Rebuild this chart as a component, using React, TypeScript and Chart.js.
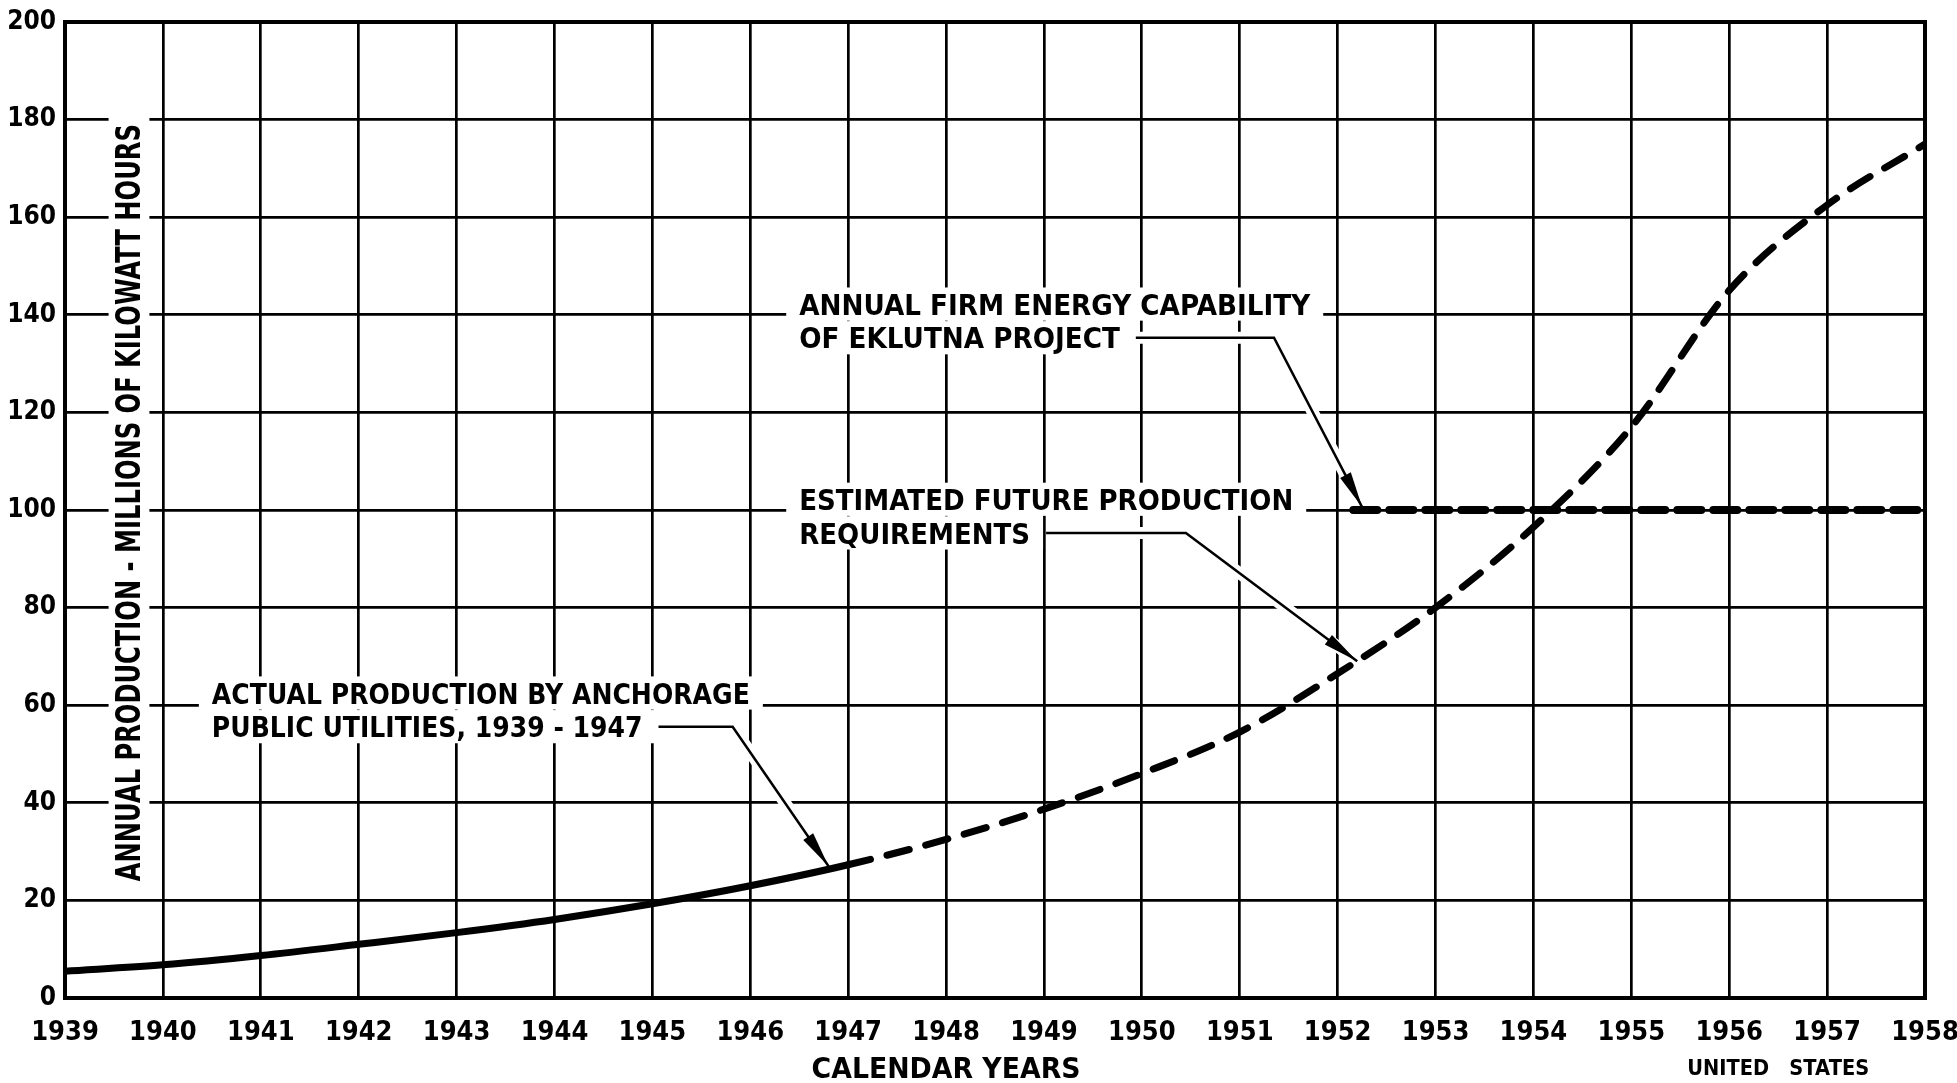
import React, { useEffect, useRef } from "react";
import { Chart, registerables } from "chart.js";

Chart.register(...registerables);

// ---- Data ----
const YEARS = [1939, 1940, 1941, 1942, 1943, 1944, 1945, 1946, 1947, 1948, 1949, 1950, 1951, 1952, 1953, 1954, 1955, 1956, 1957, 1958];
const PRODUCTION = [5.5, 6.8, 8.7, 11, 13.4, 16.1, 19.3, 23, 27.3, 32.5, 38.7, 46, 54.5, 66.5, 80, 96.5, 117, 145, 162.5, 175];
const LAST_ACTUAL_YEAR = 1947;
const FIRM_YEARS = [1952.16, 1958];
const FIRM_VALUES = [100, 100];
const Y_MIN = 0;
const Y_MAX = 200;
const Y_STEP = 20;

const X_TITLE = "CALENDAR YEARS";
const Y_TITLE = "ANNUAL PRODUCTION - MILLIONS OF KILOWATT HOURS";
const FOOTER = "UNITED   STATES";

const NOTES = [
  { lines: ["ANNUAL FIRM ENERGY CAPABILITY", "OF EKLUTNA PROJECT"], width: 511, x: 1946.5, ys: [142.2, 135.3], corner: 1951.35, tip: [1952.25, 100.6] },
  { lines: ["ESTIMATED FUTURE PRODUCTION", "REQUIREMENTS"], width: 494, x: 1946.5, ys: [102.2, 95.3], corner: 1950.45, tip: [1952.2, 69.0] },
  { lines: ["ACTUAL PRODUCTION BY ANCHORAGE", "PUBLIC UTILITIES, 1939 - 1947"], width: 538, x: 1940.5, ys: [62.5, 55.6], corner: 1945.82, tip: [1946.8, 27.0] },
];

const FONT_MAIN = '"DejaVu Sans", "Liberation Sans", sans-serif';
const FONT_TICK = '"Liberation Sans Narrow", "DejaVu Sans Condensed", "Liberation Sans", sans-serif';

function measure(ctx: CanvasRenderingContext2D, text: string, size: number, family = FONT_MAIN) {
  ctx.save();
  ctx.font = `bold ${size}px ${family}`;
  const w = ctx.measureText(text).width;
  ctx.restore();
  return w;
}

// draws text whose capitals are vertically centred on yc
function drawText(ctx: CanvasRenderingContext2D, text: string, left: number, yc: number, size: number, sx: number, family = FONT_MAIN) {
  ctx.save();
  ctx.font = `bold ${size}px ${family}`;
  ctx.fillStyle = "#000";
  ctx.textAlign = "left";
  ctx.textBaseline = "alphabetic";
  ctx.translate(left, yc + size * 0.365);
  ctx.scale(sx, 1);
  ctx.fillText(text, 0, 0);
  ctx.restore();
}

const annotationPlugin = {
  id: "annotations",
  beforeDatasetsDraw(chart: any) {
    const { ctx, chartArea, scales } = chart;
    const xs = scales.x;
    const ys = scales.y;
    const NOTE_SIZE = 29;
    const capH = NOTE_SIZE * 0.73;

    // frame
    ctx.save();
    ctx.strokeStyle = "#000";
    ctx.lineWidth = 4;
    ctx.strokeRect(chartArea.left, chartArea.top, chartArea.right - chartArea.left, chartArea.bottom - chartArea.top);
    ctx.restore();

    // notes
    NOTES.forEach((n) => {
      const natural = measure(ctx, n.lines[0], NOTE_SIZE);
      const sx = n.width / natural;
      const left = xs.getPixelForValue(n.x);
      let line2Right = left;
      n.lines.forEach((t, i) => {
        const yc = ys.getPixelForValue(n.ys[i]);
        const w = measure(ctx, t, NOTE_SIZE) * sx;
        ctx.save();
        ctx.fillStyle = "#fff";
        ctx.fillRect(left - 13, yc - capH / 2 - 6, w + 26, capH + 12);
        ctx.restore();
        drawText(ctx, t, left, yc, NOTE_SIZE, sx);
        if (i === n.lines.length - 1) line2Right = left + w;
      });
      const ly = ys.getPixelForValue(n.ys[n.lines.length - 1]);
      const x0 = line2Right + 16;
      const xc = xs.getPixelForValue(n.corner);
      const tx = xs.getPixelForValue(n.tip[0]);
      const ty = ys.getPixelForValue(n.tip[1]);
      const path = () => {
        ctx.beginPath();
        ctx.moveTo(x0, ly);
        ctx.lineTo(xc, ly);
        ctx.lineTo(tx, ty);
      };
      ctx.save();
      ctx.lineJoin = "miter";
      path();
      ctx.strokeStyle = "#fff";
      ctx.lineWidth = 12;
      ctx.stroke();
      path();
      ctx.strokeStyle = "#000";
      ctx.lineWidth = 2.5;
      ctx.stroke();
      // arrowhead
      const dx = tx - xc;
      const dy = ty - ly;
      const len = Math.hypot(dx, dy);
      const ux = dx / len;
      const uy = dy / len;
      const L = 36;
      const W = 12;
      const bx = tx - ux * L;
      const by = ty - uy * L;
      ctx.beginPath();
      ctx.moveTo(tx, ty);
      ctx.lineTo(bx - uy * W / 2, by + ux * W / 2);
      ctx.lineTo(bx + uy * W / 2, by - ux * W / 2);
      ctx.closePath();
      ctx.fillStyle = "#000";
      ctx.fill();
      ctx.restore();
    });

    // y title (inside plot, rotated)
    {
      const size = 34;
      const target = 757;
      const natural = measure(ctx, Y_TITLE, size);
      const sx = target / natural;
      const cx = chartArea.left + 63;
      const cy = ys.getPixelForValue(101.5);
      const ch = size * 0.73;
      ctx.save();
      ctx.fillStyle = "#fff";
      ctx.fillRect(cx - ch / 2 - 7, cy - target / 2 - 8, ch + 16, target + 16);
      ctx.translate(cx, cy);
      ctx.rotate(-Math.PI / 2);
      drawText(ctx, Y_TITLE, -target / 2, 0, size, sx);
      ctx.restore();
    }

    // x title
    {
      const size = 28;
      const target = 269;
      const natural = measure(ctx, X_TITLE, size);
      const sx = target / natural;
      const cx = xs.getPixelForValue(1948);
      drawText(ctx, X_TITLE, cx - target / 2, chartArea.bottom + 70, size, sx);
    }

    // footer
    {
      const size = 21;
      const target = 182;
      const natural = measure(ctx, FOOTER, size);
      const sx = target / natural;
      const cx = xs.getPixelForValue(1956.5);
      drawText(ctx, FOOTER, cx - target / 2, chartArea.bottom + 69, size, sx);
    }
  },
};

export default function App() {
  const ref = useRef<HTMLCanvasElement | null>(null);

  useEffect(() => {
    if (!ref.current) return;
    const chart = new Chart(ref.current, {
      type: "line",
      data: {
        datasets: [
          {
            label: "Production",
            data: YEARS.map((x, i) => ({ x, y: PRODUCTION[i] })),
            borderColor: "#000",
            borderWidth: 7,
            borderCapStyle: "round",
            pointRadius: 0,
            cubicInterpolationMode: "monotone",
            segment: {
              borderDash: (c: any) => (c.p0.parsed.x >= LAST_ACTUAL_YEAR ? [23, 17] : undefined),
            },
          } as any,
          {
            label: "Firm energy",
            data: FIRM_YEARS.map((x, i) => ({ x, y: FIRM_VALUES[i] })),
            borderColor: "#000",
            borderWidth: 8,
            borderDash: [24, 12],
            borderCapStyle: "round",
            pointRadius: 0,
          } as any,
        ],
      },
      options: {
        responsive: false,
        devicePixelRatio: 1,
        animation: false,
        layout: { padding: { left: 0, right: 32, top: 22, bottom: 0 } },
        plugins: { legend: { display: false }, tooltip: { enabled: false } },
        scales: {
          x: {
            type: "linear",
            min: YEARS[0],
            max: YEARS[YEARS.length - 1],
            afterFit: (s: any) => {
              s.height = 85;
              s.paddingLeft = 0;
              s.paddingRight = 0;
            },
            ticks: {
              stepSize: 1,
              autoSkip: false,
              maxRotation: 0,
              padding: 19,
              color: "#000",
              font: { family: FONT_TICK, size: 27, weight: "bold" },
              callback: (v: any) => String(v),
            },
            grid: { color: "#000", lineWidth: 2.7, drawTicks: false },
            border: { color: "#000", width: 4 },
          },
          y: {
            min: Y_MIN,
            max: Y_MAX,
            afterFit: (s: any) => {
              s.width = 65;
              s.paddingTop = 0;
              s.paddingBottom = 0;
            },
            ticks: {
              stepSize: Y_STEP,
              padding: 9,
              color: "#000",
              font: { family: FONT_TICK, size: 26, weight: "bold" },
              callback: (v: any) => String(v),
            },
            grid: { color: "#000", lineWidth: 2.7, drawTicks: false },
            border: { color: "#000", width: 4 },
          },
        },
      } as any,
      plugins: [annotationPlugin],
    });
    return () => chart.destroy();
  }, []);

  return (
    <div style={{ position: "fixed", left: 0, top: 0, width: 1957, height: 1083, background: "#fff" }}>
      <canvas ref={ref} width={1957} height={1083} />
    </div>
  );
}
